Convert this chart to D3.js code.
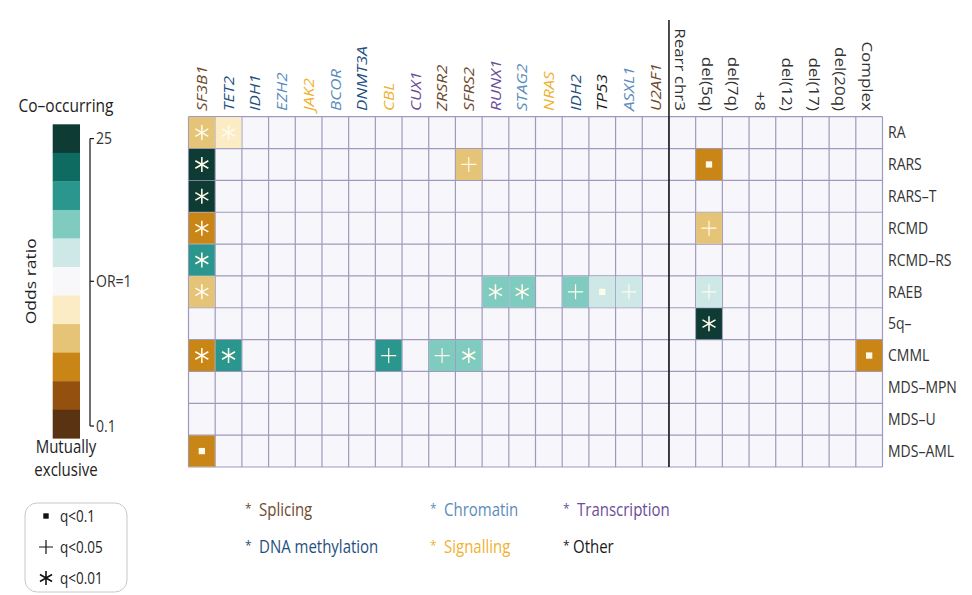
<!DOCTYPE html>
<html>
<head>
<meta charset="utf-8">
<script src="https://cdn.jsdelivr.net/npm/d3@7"></script>
<style>
  body { margin: 0; background: #fff; }
  svg { display: block; font-family: "Open Sans", "Noto Sans", sans-serif; }
</style>
</head>
<body>
<svg id="chart" width="972" height="595"></svg>
<script>
// Driver genes (columns, left block) and their functional group
const genes = ["SF3B1", "TET2", "IDH1", "EZH2", "JAK2", "BCOR", "DNMT3A", "CBL", "CUX1",
  "ZRSR2", "SFRS2", "RUNX1", "STAG2", "NRAS", "IDH2", "TP53", "ASXL1", "U2AF1"];
const geneGroups = ["Splicing", "DNA methylation", "DNA methylation", "Chromatin", "Signalling",
  "Chromatin", "DNA methylation", "Signalling", "Transcription", "Splicing", "Splicing",
  "Transcription", "Chromatin", "Signalling", "DNA methylation", "Other", "Chromatin", "Splicing"];

// Cytogenetic lesions (columns, right block)
const cytogenetics = ["Rearr chr3", "del(5q)", "del(7q)", "+8", "del(12)", "del(17)", "del(20q)", "Complex"];

// Disease subtypes (rows)
const subtypes = ["RA", "RARS", "RARS–T", "RCMD", "RCMD–RS", "RAEB", "5q–", "CMML",
  "MDS–MPN", "MDS–U", "MDS–AML"];

// Significant associations: [subtype, feature, odds ratio, q-value]
const associations = [
  ["RA", "SF3B1", 0.45, 0.005],
  ["RA", "TET2", 0.65, 0.005],
  ["RARS", "SF3B1", 20, 0.005],
  ["RARS", "SFRS2", 0.45, 0.03],
  ["RARS", "del(5q)", 0.3, 0.08],
  ["RARS–T", "SF3B1", 22, 0.005],
  ["RCMD", "SF3B1", 0.3, 0.005],
  ["RCMD", "del(5q)", 0.45, 0.03],
  ["RCMD–RS", "SF3B1", 6, 0.005],
  ["RAEB", "SF3B1", 0.45, 0.005],
  ["RAEB", "RUNX1", 3.2, 0.005],
  ["RAEB", "STAG2", 3.2, 0.005],
  ["RAEB", "IDH2", 3.2, 0.03],
  ["RAEB", "TP53", 1.9, 0.08],
  ["RAEB", "ASXL1", 1.8, 0.03],
  ["RAEB", "del(5q)", 1.7, 0.03],
  ["5q–", "del(5q)", 24, 0.005],
  ["CMML", "SF3B1", 0.3, 0.005],
  ["CMML", "TET2", 5.5, 0.005],
  ["CMML", "CBL", 6, 0.03],
  ["CMML", "ZRSR2", 3.3, 0.03],
  ["CMML", "SFRS2", 3.5, 0.005],
  ["CMML", "Complex", 0.3, 0.08],
  ["MDS–AML", "SF3B1", 0.3, 0.08]
];

// Diverging palette, mutually exclusive -> co-occurring
const colorSteps = ["#5a3312", "#93500f", "#c98516", "#e5c377", "#fbecc6", "#f8f8fa",
  "#cde8e6", "#7fcbc0", "#2a968d", "#0d6b62", "#0e3b33"];
const orTicks = [25, 1, 0.1];
const orTickLabels = ["25", "OR=1", "0.1"];

// Significance symbols
const qThresholds = [0.1, 0.05, 0.01];
const qSymbols = ["square", "plus", "asterisk"];
const qLabels = ["q<0.1", "q<0.05", "q<0.01"];

// Functional group key
const groupNames = ["Splicing", "Chromatin", "Transcription", "DNA methylation", "Signalling", "Other"];
const groupColors = ["#6e4a2c", "#5b8cbb", "#6b4d9a", "#1f4f7e", "#efb131", "#1a1a1a"];

const svg = d3.select("#chart");
const groupColor = d3.scaleOrdinal().domain(groupNames).range(groupColors);
const TALL = 1.17; // type is set slightly taller than wide

// horizontal text placed at (px, py), stretched vertically about its baseline
function label(parent, px, py, txt, size, fill, anchor) {
  return parent.append("text")
    .attr("transform", `translate(${px},${py}) scale(1,${TALL})`)
    .attr("text-anchor", anchor || "start")
    .attr("font-size", size).attr("fill", fill).text(txt);
}

// ---- heat grid ----
const columns = genes.concat(cytogenetics);
const x = d3.scaleBand().domain(columns).range([188.5, 882.5]);
const y = d3.scaleBand().domain(subtypes).range([116.7, 467]);

const orPos = d3.scaleLog().domain([0.1, 1, 25]).range([0, 0.5, 1]).clamp(true);
const orColor = d3.scaleQuantize().domain([0, 1]).range(colorSteps);

const symbolFor = q => {
  let s = null;
  qThresholds.forEach((t, i) => { if (q < t) s = qSymbols[i]; });
  return s;
};

const grid = svg.append("g");
grid.append("rect")
  .attr("x", x.range()[0]).attr("y", y.range()[0])
  .attr("width", x.range()[1] - x.range()[0]).attr("height", y.range()[1] - y.range()[0])
  .attr("fill", "#f7f7fb");

const lineColor = "#9f99be";
grid.selectAll("line.v").data(columns.concat([null])).join("line")
  .attr("x1", d => d === null ? x.range()[1] : x(d))
  .attr("x2", d => d === null ? x.range()[1] : x(d))
  .attr("y1", y.range()[0]).attr("y2", y.range()[1])
  .attr("stroke", lineColor).attr("stroke-width", 1.2);
grid.selectAll("line.h").data(subtypes.concat([null])).join("line")
  .attr("y1", d => d === null ? y.range()[1] : y(d))
  .attr("y2", d => d === null ? y.range()[1] : y(d))
  .attr("x1", x.range()[0]).attr("x2", x.range()[1])
  .attr("stroke", lineColor).attr("stroke-width", 1.2);

// coloured cells
const cells = svg.append("g").selectAll("g").data(associations).join("g")
  .attr("transform", d => `translate(${x(d[1])},${y(d[0])})`);
cells.append("rect")
  .attr("x", 0.4).attr("y", 0.4)
  .attr("width", x.bandwidth() - 0.8).attr("height", y.bandwidth() - 0.8)
  .attr("fill", d => orColor(orPos(d[2])));

function drawSymbol(sel, type, cx, cy, r, color, sw) {
  if (type === "square") {
    sel.append("rect").attr("x", cx - r * 0.45).attr("y", cy - r * 0.45)
      .attr("width", r * 0.9).attr("height", r * 0.9).attr("fill", color);
  } else if (type === "plus") {
    sel.append("path")
      .attr("d", `M${cx - r},${cy}H${cx + r}M${cx},${cy - r}V${cy + r}`)
      .attr("stroke", color).attr("stroke-width", sw).attr("fill", "none");
  } else if (type === "asterisk") {
    const p = d3.path();
    [90, 30, 150].forEach(a => {
      const rad = a * Math.PI / 180;
      p.moveTo(cx - r * Math.cos(rad), cy - r * Math.sin(rad));
      p.lineTo(cx + r * Math.cos(rad), cy + r * Math.sin(rad));
    });
    sel.append("path").attr("d", p.toString())
      .attr("stroke", color).attr("stroke-width", sw * 1.3).attr("fill", "none");
  }
}

cells.each(function (d) {
  const type = symbolFor(d[3]);
  const r = type === "square" ? 7 : 7.5;
  drawSymbol(d3.select(this), type, x.bandwidth() / 2, y.bandwidth() / 2, r, "#fffbea", 1.2);
});

// separator between genes and cytogenetics
svg.append("line")
  .attr("x1", x(cytogenetics[0])).attr("x2", x(cytogenetics[0]))
  .attr("y1", 20).attr("y2", y.range()[1])
  .attr("stroke", "#111").attr("stroke-width", 1.5);

// column headers
svg.append("g").selectAll("text").data(genes).join("text")
  .attr("transform", d => `translate(${x(d) + x.bandwidth() / 2},111) rotate(-90) scale(${TALL},1)`)
  .attr("dy", "0.36em")
  .attr("font-size", 14.5).attr("font-style", "italic")
  .attr("fill", (d, i) => groupColor(geneGroups[i]))
  .text(d => d);

svg.append("g").selectAll("text").data(cytogenetics).join("text")
  .attr("transform", d => `translate(${x(d) + x.bandwidth() / 2 - 2},111) rotate(90) scale(${TALL},1)`)
  .attr("dy", "0.36em").attr("text-anchor", "end")
  .attr("font-size", 14.5).attr("fill", "#333")
  .text(d => d);

// row labels
const rowLabels = svg.append("g");
subtypes.forEach(s => label(rowLabels, x.range()[1] + 5.5, y(s) + y.bandwidth() / 2 + 5.8, s, 14, "#333"));

// ---- odds ratio colour key ----
const key = svg.append("g");
const ky = d3.scaleBand().domain(d3.range(colorSteps.length)).range([124.3, 438.3]);
key.selectAll("rect").data(colorSteps.slice().reverse()).join("rect")
  .attr("x", 52.7).attr("width", 27.3)
  .attr("y", (d, i) => ky(i)).attr("height", ky.bandwidth() + 0.3)
  .attr("fill", d => d);

const bracketY = d3.scaleLog().domain([0.1, 1, 25])
  .range([ky(10) + ky.bandwidth() / 2 + 2, ky(5) + ky.bandwidth() / 2, ky(0) + ky.bandwidth() / 2]);
const bx = 90;
key.append("line").attr("x1", bx).attr("x2", bx)
  .attr("y1", bracketY(25)).attr("y2", bracketY(0.1))
  .attr("stroke", "#111").attr("stroke-width", 1.2);
key.selectAll("line.tick").data(orTicks).join("line")
  .attr("x1", bx).attr("x2", bx + 4)
  .attr("y1", d => bracketY(d)).attr("y2", d => bracketY(d))
  .attr("stroke", "#111").attr("stroke-width", 1.2);
orTicks.forEach((t, i) => label(key, bx + 6, bracketY(t) + 5.8, orTickLabels[i], 14, "#333"));

label(key, 66, 112, "Co–occurring", 15.5, "#222", "middle");
label(key, 66, 453, "Mutually", 15, "#222", "middle");
label(key, 66, 476, "exclusive", 15, "#222", "middle");
key.append("text")
  .attr("transform", `translate(31,${ky(5) + ky.bandwidth() / 2}) rotate(-90) scale(${TALL},1)`)
  .attr("text-anchor", "middle").attr("dy", "0.36em")
  .attr("font-size", 15).attr("fill", "#222").text("Odds ratio");

// ---- significance key ----
const qKey = svg.append("g");
qKey.append("rect").attr("x", 25).attr("y", 503).attr("width", 102).attr("height", 89)
  .attr("rx", 12).attr("fill", "#fff").attr("stroke", "#c8c8c8").attr("stroke-width", 1);
qSymbols.forEach((s, i) => {
  const cy = 516 + i * 31;
  const g = qKey.append("g");
  drawSymbol(g, s, 46, cy, s === "square" ? 6 : 7, "#111", 1.2);
  label(g, 60, cy + 5.5, qLabels[i], 13.5, "#222");
});

// ---- functional group key ----
const gx = [245, 430, 563];
const gy = [510, 547];
const groupKey = svg.append("g").selectAll("g").data(groupNames).join("g")
  .attr("transform", (d, i) => `translate(${gx[i % 3]},${gy[Math.floor(i / 3)]})`);
groupKey.append("text").attr("y", 0).attr("dy", "0.25em").attr("font-size", 12)
  .attr("fill", d => groupColor(d)).text("*");
groupKey.each(function (d, i) {
  label(d3.select(this), i === 5 ? 10 : 14, 6, d, 15, groupColor(d));
});
</script>
</body>
</html>
